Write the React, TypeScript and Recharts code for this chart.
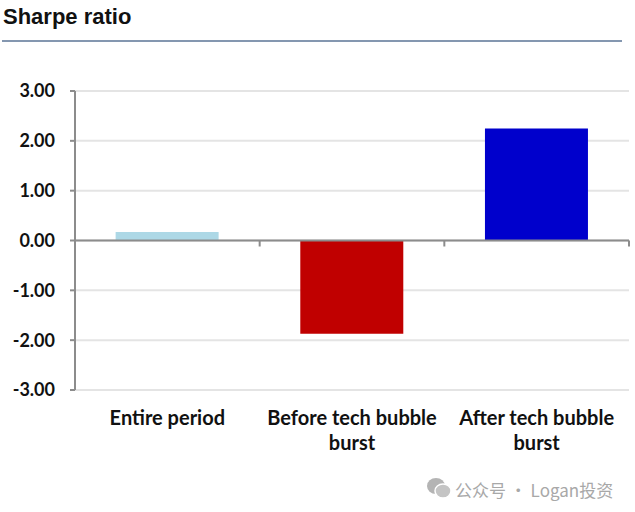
import React from "react";
import { BarChart, Bar, Cell, XAxis, YAxis, CartesianGrid, ReferenceLine } from "recharts";

const categories = ["Entire period", "Before tech bubble burst", "After tech bubble burst"];
const sharpe = [0.17, -1.87, 2.25];
const barColors = ["#add8e6", "#c00000", "#0000cc"];
const yTicks = [-3, -2, -1, 0, 1, 2, 3];

const data = categories.map((name, i) => ({ name, value: sharpe[i] }));

const labelFont = "Lato, 'Open Sans', sans-serif";

// simple word wrap, at most 18 characters per line
function wrap(label: string, max = 18) {
  const lines: string[] = [];
  let cur = "";
  label.split(" ").forEach((w) => {
    const next = cur ? cur + " " + w : w;
    if (next.length > max && cur) {
      lines.push(cur);
      cur = w;
    } else {
      cur = next;
    }
  });
  if (cur) lines.push(cur);
  return lines;
}

function CategoryTick(props: any) {
  const { x, y, payload } = props;
  const lines = wrap(String(payload.value));
  return (
    <text
      x={x}
      y={y}
      textAnchor="middle"
      style={{ fontFamily: labelFont, fontWeight: 700, fontSize: 20, fill: "#111" }}
    >
      {lines.map((l, i) => (
        <tspan key={i} x={x} dy={i === 0 ? 35 : 25}>
          {l}
        </tspan>
      ))}
    </text>
  );
}

// zero line with the small category-boundary ticks hanging below it
function ZeroAxis(props: any) {
  const { x1, y1, x2 } = props;
  const n = data.length;
  const step = (x2 - x1) / n;
  return (
    <g>
      <line x1={x1} y1={y1} x2={x2} y2={y1} stroke="#8c8c8c" strokeWidth={2} />
      {data.map((_, i) => (
        <line
          key={i}
          x1={x1 + step * (i + 1)}
          y1={y1}
          x2={x1 + step * (i + 1)}
          y2={y1 + 6}
          stroke="#8c8c8c"
          strokeWidth={2}
        />
      ))}
    </g>
  );
}

export default function App() {
  return (
    <div style={{ position: "absolute", left: 0, top: 0, width: 635, height: 512, background: "#fff" }}>
      <div
        style={{
          position: "absolute",
          left: 3,
          top: 4,
          fontFamily: "'Liberation Sans', Arial, sans-serif",
          fontWeight: 700,
          fontSize: 22,
          color: "#111",
        }}
      >
        Sharpe ratio
      </div>
      <div style={{ position: "absolute", left: 2, top: 40, width: 620, height: 2, background: "#8497b0" }} />
      <BarChart
        width={635}
        height={512}
        data={data}
        margin={{ top: 91, right: 6, bottom: 62, left: 5 }}
        barCategoryGap="22%"
      >
        <CartesianGrid vertical={false} stroke="#e4e4e4" strokeWidth={2} />
        <XAxis
          dataKey="name"
          axisLine={false}
          tickLine={false}
          height={60}
          interval={0}
          tickSize={0}
          tickMargin={0}
          tick={<CategoryTick />}
        />
        <YAxis
          domain={[-3, 3]}
          ticks={yTicks}
          width={70}
          tickFormatter={(v: number) => v.toFixed(2)}
          axisLine={{ stroke: "#8c8c8c", strokeWidth: 2 }}
          tickLine={{ stroke: "#8c8c8c", strokeWidth: 2 }}
          tickSize={5}
          tickMargin={15}
          tick={{ fontFamily: labelFont, fontWeight: 700, fontSize: 18, fill: "#111" }}
        />
        <Bar dataKey="value" isAnimationActive={false}>
          {data.map((_, i) => (
            <Cell key={i} fill={barColors[i]} />
          ))}
        </Bar>
        <ReferenceLine y={0} shape={<ZeroAxis />} />
      </BarChart>
      <svg style={{ position: "absolute", left: 426, top: 476 }} width={26} height={24}>
        <ellipse cx={10} cy={10} rx={9} ry={8} fill="#b4b4b4" />
        <ellipse cx={17} cy={15} rx={8} ry={7} fill="#c4c4c4" stroke="#fff" strokeWidth={1.5} />
      </svg>
      <div
        style={{
          position: "absolute",
          left: 455,
          top: 477,
          fontFamily: "'Noto Sans CJK SC', 'Noto Sans', sans-serif",
          fontSize: 17,
          color: "#a8a8a8",
        }}
      >
        公众号 · Logan投资
      </div>
    </div>
  );
}
